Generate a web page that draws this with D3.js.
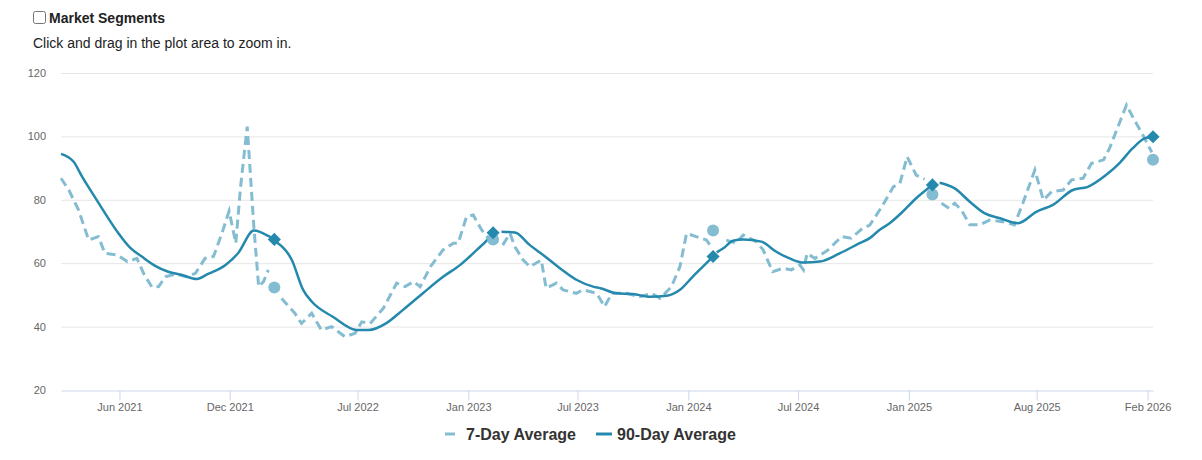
<!DOCTYPE html>
<html>
<head>
<meta charset="utf-8">
<style>
  body { margin: 0; font-family: "Liberation Sans", Arial, sans-serif; background: #fff; }
  #head { position: absolute; left: 0; top: 0; }
  #seg { position: absolute; left: 33px; top: 11px; margin: 0; width: 13px; height: 13px; }
  #segLabel { position: absolute; left: 49px; top: 10px; font-weight: bold; font-size: 14px; color: #222; white-space: nowrap; }
  #hint { position: absolute; left: 33px; top: 35px; font-size: 14px; color: #222; white-space: nowrap; }
  svg { position: absolute; left: 0; top: 0; }
</style>
</head>
<body>
<div id="head">
  <input type="checkbox" id="seg"><label id="segLabel" for="seg">Market Segments</label>
  <div id="hint">Click and drag in the plot area to zoom in.</div>
</div>
<svg width="1202" height="460"></svg>
<script src="https://d3js.org/d3.v7.min.js"></script>
<script>

// 7-day average
var dates7 = ["2021-02-24","2021-03-09","2021-03-25","2021-04-11","2021-04-27","2021-05-08","2021-05-28","2021-06-14",
  "2021-06-30","2021-07-11","2021-07-25","2021-08-05","2021-08-16","2021-09-02","2021-09-21","2021-10-05","2021-10-21",
  "2021-11-04","2021-11-18","2021-11-30","2021-12-11","2021-12-19","2021-12-30","2022-01-10","2022-01-18","2022-01-26",
  "2022-02-03","2022-02-25","2022-03-19","2022-03-30","2022-04-16","2022-05-02","2022-05-19","2022-06-10","2022-06-27",
  "2022-07-08","2022-07-22","2022-08-13","2022-09-04","2022-09-18","2022-10-02","2022-10-13","2022-10-30","2022-11-20",
  "2022-12-07","2022-12-15","2022-12-29","2023-01-09","2023-01-23","2023-02-03","2023-02-27","2023-03-11","2023-03-19",
  "2023-04-02","2023-04-13","2023-05-02","2023-05-10","2023-05-27","2023-06-07","2023-06-29","2023-07-10","2023-08-02",
  "2023-08-15","2023-08-27","2023-09-21","2023-10-12","2023-11-01","2023-11-15","2023-12-04","2023-12-18","2023-12-29",
  "2024-01-14","2024-01-31","2024-02-08","2024-03-04","2024-03-20","2024-04-01","2024-04-23","2024-05-04","2024-05-20",
  "2024-06-06","2024-06-20","2024-07-04","2024-07-10","2024-07-16","2024-07-29","2024-08-20","2024-09-11","2024-09-27",
  "2024-10-16","2024-10-28","2024-11-19","2024-12-06","2024-12-17","2024-12-29","2025-01-13","2025-01-27","2025-02-24",
  "2025-03-09","2025-03-18","2025-03-29","2025-04-12","2025-04-28","2025-05-15","2025-06-06","2025-06-25","2025-07-09",
  "2025-07-29","2025-08-12","2025-08-26","2025-09-14","2025-09-28","2025-10-17","2025-10-31","2025-11-20","2025-11-30",
  "2025-12-28","2026-01-10","2026-01-24","2026-02-08"]
var values7 = [86.8,83.1,76.8,67.3,68.4,63.1,62.6,60.5,
  61.5,56.8,52.4,52.6,55.7,56.6,55.7,56.8,61.5,
  62.1,69.4,76.5,66.3,84.1,103.1,71.5,52.6,54.2,
  57.9,48.9,44.2,41.0,44.2,38.9,40.0,36.8,37.9,
  41.5,41.0,45.8,53.7,52.6,54.2,52.6,58.9,64.2,
  66.3,66.3,74.7,75.2,70.5,67.9,65.7,69.4,65.2,
  61.0,58.9,61.0,52.1,53.7,51.6,50.5,51.6,50.5,
  46.3,50.5,50.5,49.4,50.5,48.9,52.6,58.9,69.4,
  68.4,67.3,65.2,67.3,66.3,68.9,66.8,64.2,57.3,
  58.4,57.9,59.5,57.9,63.1,61.5,64.2,68.4,67.9,
  71.0,72.0,78.4,84.1,85.2,93.6,87.8,86.5,78.9,
  77.3,78.9,76.8,72.1,72.1,73.6,73.1,72.1,78.9,
  89.4,79.9,82.6,83.1,86.3,86.8,91.5,92.6,96.3,
  109.9,105.2,100.5,95.0]

// 90-day average
var dates90 = ["2021-02-24","2021-03-17","2021-03-31","2021-04-22","2021-05-13","2021-05-30","2021-06-19","2021-07-08",
  "2021-07-31","2021-08-21","2021-09-13","2021-10-07","2021-10-26","2021-11-24","2021-12-15","2022-01-10","2022-02-03",
  "2022-02-13","2022-02-17","2022-03-14","2022-04-02","2022-04-16","2022-05-21","2022-06-30","2022-07-19","2022-08-18",
  "2022-09-14","2022-10-18","2022-11-20","2022-12-18","2023-01-15","2023-02-01","2023-02-11","2023-02-25","2023-03-19",
  "2023-04-13","2023-05-05","2023-06-02","2023-06-30","2023-07-27","2023-08-08","2023-09-04","2023-10-01","2023-10-29",
  "2023-11-26","2023-12-18","2024-01-08","2024-01-31","2024-02-11","2024-02-17","2024-02-28","2024-03-15","2024-04-01",
  "2024-05-01","2024-05-26","2024-06-17","2024-07-10","2024-08-06","2024-09-08","2024-10-11","2024-10-28","2024-11-13",
  "2024-11-30","2024-12-22","2025-01-13","2025-02-09","2025-02-21","2025-03-18","2025-04-12","2025-05-07","2025-06-01",
  "2025-07-01","2025-08-01","2025-08-28","2025-09-30","2025-10-25","2025-11-24","2025-12-16","2026-01-07","2026-01-27",
  "2026-02-10"]
var values90 = [94.5,92.0,87.3,80.6,74.3,69.5,64.8,62.1,
  59.1,57.3,56.3,55.0,56.6,59.4,63.2,70.3,68.6,
  67.5,66.6,61.0,51.5,47.9,43.1,38.9,38.9,41.1,
  45.2,50.6,55.7,59.4,64.2,67.3,69.6,69.9,69.7,
  65.7,62.6,58.4,54.7,52.6,52.1,50.5,50.3,49.4,
  49.7,51.6,55.7,60.0,62.1,63.4,64.7,67.1,67.5,
  66.8,63.6,61.5,60.2,60.5,63.1,66.3,67.9,70.5,
  72.6,76.3,80.5,84.7,85.4,83.6,79.4,75.7,74.2,
  72.6,76.3,78.4,83.1,84.1,87.8,91.5,96.2,99.4,
  99.9]

// same-day markers each year
var markerDates = ["2022-02-13","2023-02-11","2024-02-11","2025-02-09","2026-02-10"]
var marker7 = [52.3,67.5,70.3,81.7,92.6]
var marker90 = [67.5,69.6,62.1,84.7,99.9]

var yTicks = [20,40,60,80,100,120]
var xTickDates = ["2021-06-01","2021-12-01","2022-07-01","2023-01-01","2023-07-01","2024-01-01","2024-07-01","2025-01-01","2025-08-01","2026-02-01"]

var color7 = '#84bdd1',
	color90 = '#2489ad',
	plotLeft = 61, plotRight = 1153, plotTop = 73, plotBottom = 390

var parse = d3.timeParse('%Y-%m-%d')

var x = d3.scaleTime()
	.domain([parse('2021-02-24'), parse('2026-02-10')])
	.range([plotLeft, plotRight])

var y = d3.scaleLinear()
	.domain([20, 120])
	.range([plotBottom, plotTop])

var svg = d3.select('svg')

// grid
svg.append('g')
	.selectAll('line')
	.data(yTicks.slice(1))
	.enter().append('line')
	.attr('x1', plotLeft).attr('x2', plotRight)
	.attr('y1', d => y(d) + 0.5).attr('y2', d => y(d) + 0.5)
	.style('stroke', '#e6e6e6')

// y labels
svg.append('g')
	.selectAll('text')
	.data(yTicks)
	.enter().append('text')
	.attr('x', 46).attr('y', d => y(d) + 4)
	.attr('text-anchor', 'end')
	.style('font-size', '11px').style('fill', '#666')
	.text(d => d)

// x axis
var xAxis = d3.axisBottom(x)
	.tickValues(xTickDates.map(parse))
	.tickFormat(d3.timeFormat('%b %Y'))
	.tickSize(10)
	.tickSizeOuter(0)

var gx = svg.append('g')
	.attr('transform', 'translate(0,' + (plotBottom + 0.5) + ')')
	.call(xAxis)
gx.select('.domain').style('stroke', '#ccd6eb')
gx.selectAll('.tick line').style('stroke', '#ccd6eb')
gx.selectAll('.tick text')
	.style('font-size', '11px').style('fill', '#666')
	.style('font-family', '"Liberation Sans", Arial, sans-serif')

// split a series into yearly pieces at the marker dates
function pieces(dates, values) {
	var cuts = markerDates.map(parse)
	var out = [[]]
	dates.forEach(function(d, i) {
		var t = parse(d)
		var k = cuts.filter(c => t > c).length
		while (out.length <= k) out.push([])
		out[k].push([t, values[i]])
	})
	return out.filter(p => p.length)
}

var line7 = d3.line().x(d => x(d[0])).y(d => y(d[1]))
var line90 = d3.line().x(d => x(d[0])).y(d => y(d[1])).curve(d3.curveMonotoneX)

svg.append('g')
	.selectAll('path')
	.data(pieces(dates7, values7))
	.enter().append('path')
	.attr('d', line7)
	.style('fill', 'none')
	.style('stroke', color7)
	.style('stroke-width', 3)
	.style('stroke-dasharray', '9,5')

svg.append('g')
	.selectAll('path')
	.data(pieces(dates90, values90))
	.enter().append('path')
	.attr('d', line90)
	.style('fill', 'none')
	.style('stroke', color90)
	.style('stroke-width', 2.5)
	.style('stroke-linejoin', 'round')

// markers
svg.append('g')
	.selectAll('circle')
	.data(markerDates)
	.enter().append('circle')
	.attr('cx', d => x(parse(d)))
	.attr('cy', (d, i) => y(marker7[i]))
	.attr('r', 6)
	.style('fill', color7)

svg.append('g')
	.selectAll('path')
	.data(markerDates)
	.enter().append('path')
	.attr('d', d3.symbol(d3.symbolDiamond2, 110))
	.attr('transform', (d, i) => 'translate(' + x(parse(d)) + ',' + y(marker90[i]) + ')')
	.style('fill', color90)

// legend
var legend = [
	{name: '7-Day Average', color: color7, dash: '10,6', w: 3, x: 445},
	{name: '90-Day Average', color: color90, dash: null, w: 3, x: 596}
]
var lg = svg.append('g').selectAll('g')
	.data(legend)
	.enter().append('g')
	.attr('transform', d => 'translate(' + d.x + ',434)')
lg.append('line')
	.attr('x1', 0).attr('x2', 16)
	.style('stroke', d => d.color)
	.style('stroke-width', d => d.w)
	.style('stroke-dasharray', d => d.dash)
lg.append('text')
	.attr('x', 21).attr('y', 6)
	.style('font-size', '16px').style('font-weight', 'bold').style('fill', '#333')
	.text(d => d.name)

</script>
</body>
</html>
